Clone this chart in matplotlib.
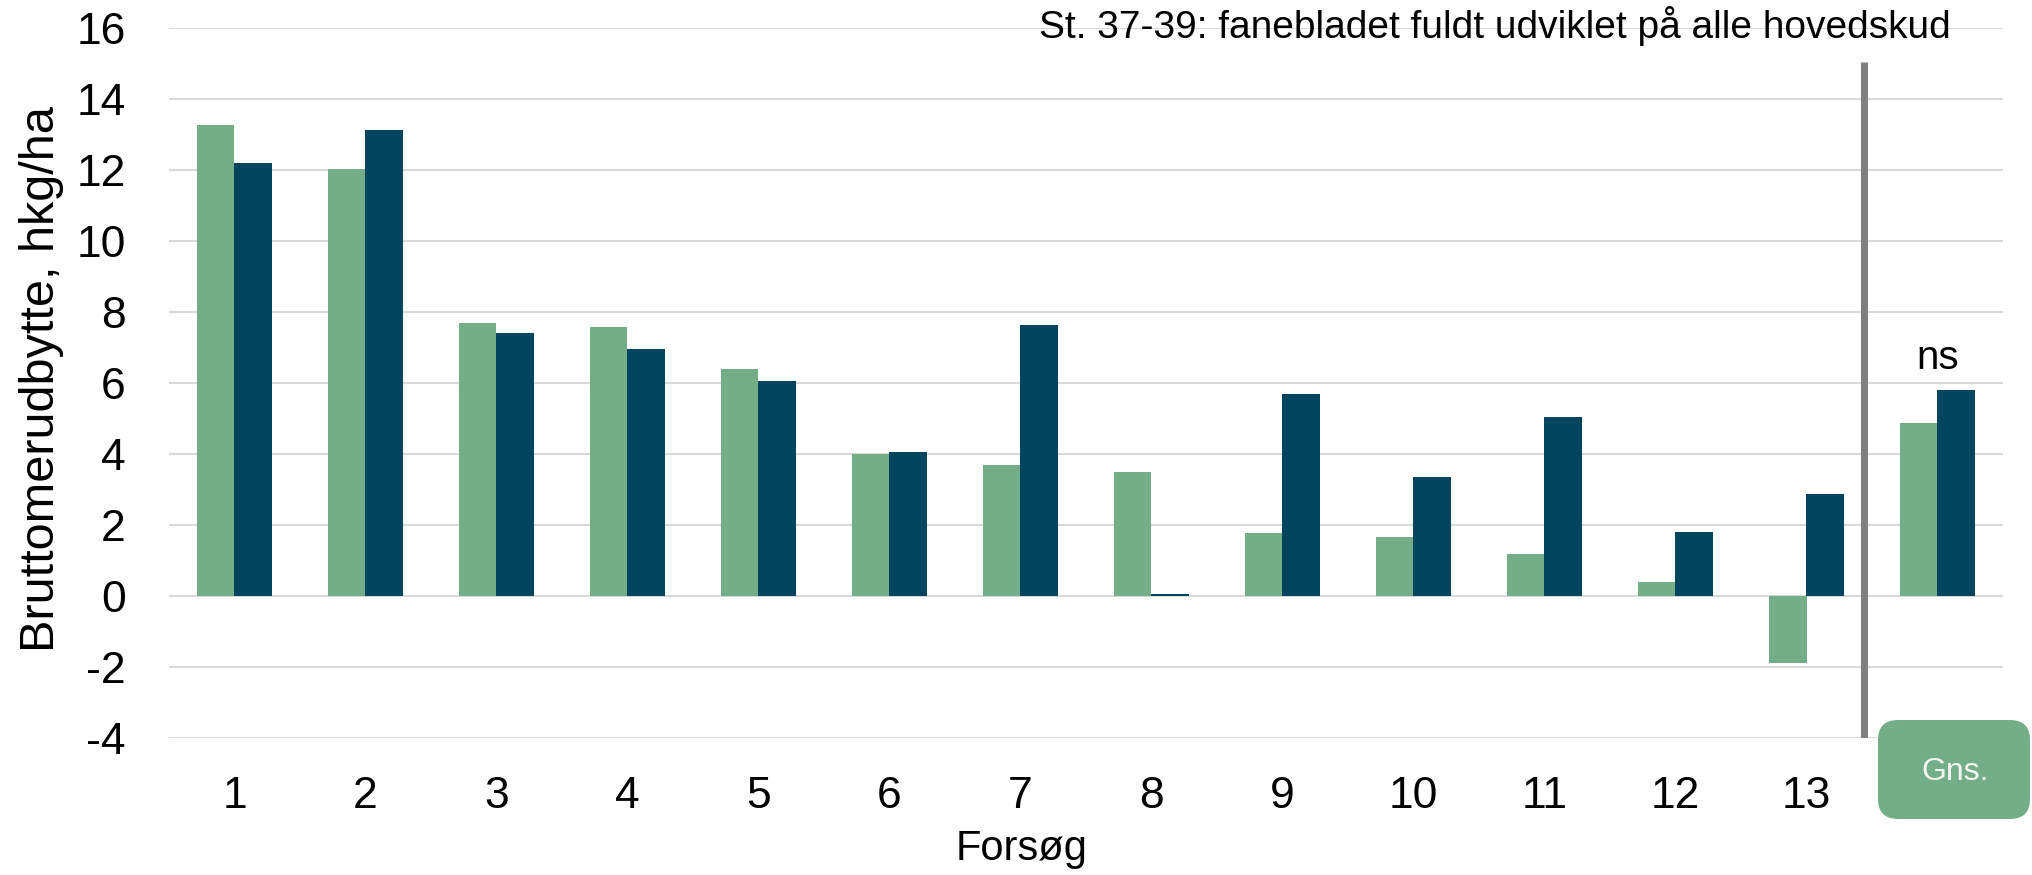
import numpy as np
import matplotlib
matplotlib.use("Agg")
import matplotlib.pyplot as plt
from matplotlib.patches import FancyBboxPatch

plt.rcParams['font.family'] = ['Liberation Sans', 'DejaVu Sans']

# data (hkg/ha)
forsog = ['1', '2', '3', '4', '5', '6', '7', '8', '9', '10', '11', '12', '13', 'Gns.']
green_vals = [13.27, 12.02, 7.70, 7.57, 6.39, 4.00, 3.69, 3.49, 1.77, 1.67, 1.19, 0.40, -1.89, 4.88]
blue_vals = [12.20, 13.13, 7.40, 6.97, 6.07, 4.05, 7.62, 0.05, 5.69, 3.36, 5.03, 1.80, 2.87, 5.80]
yticks = list(range(-4, 17, 2))

GREEN = '#73AE89'
BLUE = '#00445E'
GRID = '#D9D9D9'

fig = plt.figure(figsize=(20.33, 8.75), dpi=100)
ax = fig.add_axes([169 / 2033, 137 / 875, 1834 / 2033, 710 / 875])

x = np.arange(len(forsog))
w = 0.287
ax.bar(x - w / 2, green_vals, w, color=GREEN, zorder=2)
ax.bar(x + w / 2, blue_vals, w, color=BLUE, zorder=2)

ax.set_xlim(-0.5, len(forsog) - 0.5)
ax.set_ylim(-4, 16)
ax.set_yticks(yticks)
ax.set_yticklabels([str(t) for t in yticks])
ax.set_xticks(x)
ax.set_xticklabels(forsog[:-1] + [''])
ax.tick_params(axis='y', length=0, pad=31, labelsize=32)
ax.tick_params(axis='x', length=0, pad=27, labelsize=32)
ax.grid(axis='y', color=GRID, lw=1.5, zorder=0)
ax.set_axisbelow(True)
for s in ax.spines.values():
    s.set_visible(False)

ax.set_ylabel('Bruttomerudbytte, hkg/ha', fontsize=35)
ax.yaxis.set_label_coords(-0.057, 0.505)
ax.set_xlabel('Forsøg', fontsize=30)
ax.xaxis.set_label_coords(0.465, -0.128)

# separator between trials and average
sep_x = 12.44
ax.plot([sep_x, sep_x], [-4, 15.05], color='#7F7F7F', lw=5, zorder=3, solid_capstyle='butt')

ax.text(0.9716, 0.986, 'St. 37-39: fanebladet fuldt udviklet på alle hovedskud',
        transform=ax.transAxes, ha='right', va='baseline', fontsize=28, zorder=4)
ax.text(x[-1], 6.7, 'ns', ha='center', va='center', fontsize=29)

# rounded "Gns." label box
box = FancyBboxPatch((18.78, 0.56), 1.52, 0.99, boxstyle='round,pad=0,rounding_size=0.2',
                     transform=fig.dpi_scale_trans, facecolor=GREEN, edgecolor='none')
fig.add_artist(box)
fig.text(19.55, 1.03, 'Gns.', transform=fig.dpi_scale_trans, ha='center', va='center',
         fontsize=23, color='#F4F4F0')

fig.savefig('out.png', dpi=100)
